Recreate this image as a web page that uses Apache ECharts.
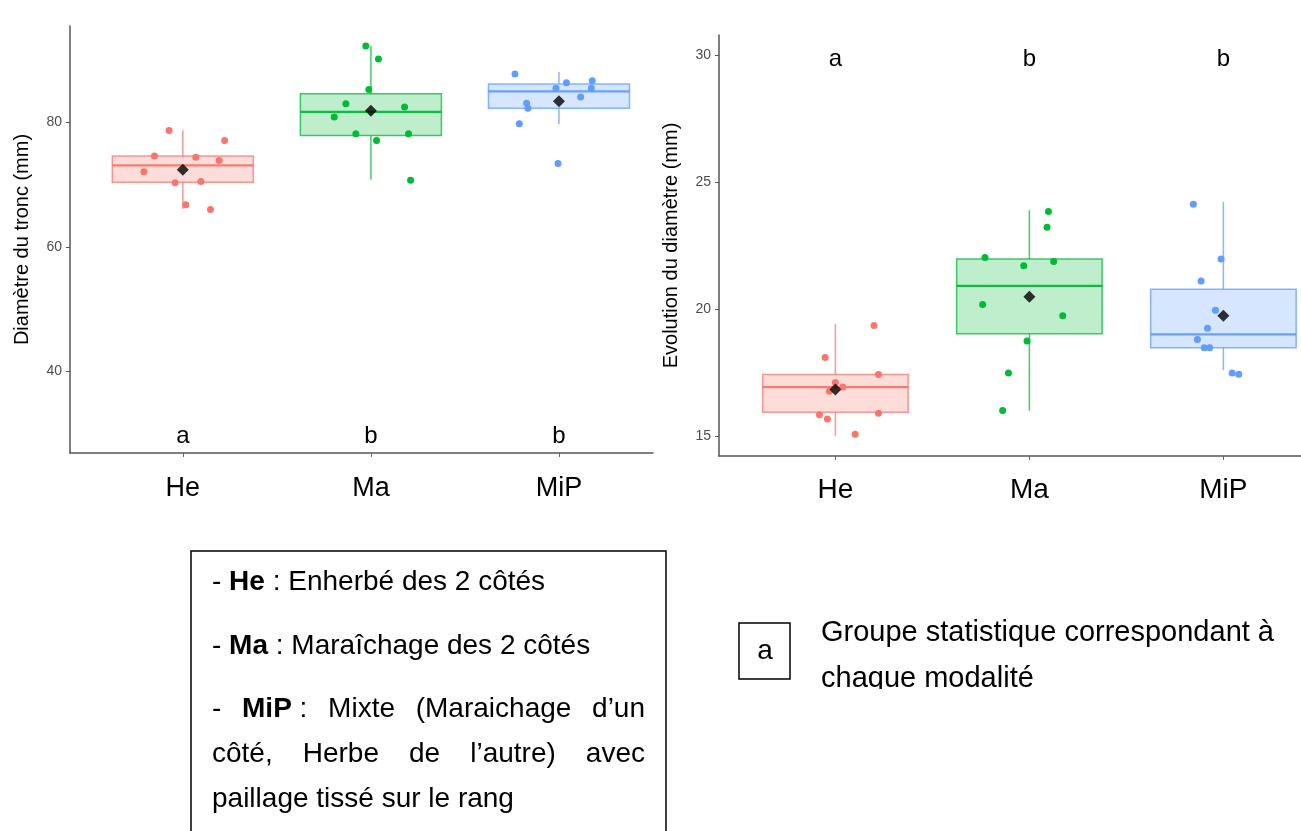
<!DOCTYPE html>
<html><head><meta charset="utf-8">
<script src="https://cdn.jsdelivr.net/npm/echarts@6/dist/echarts.min.js"></script>
<style>html,body{margin:0;padding:0;background:#fff}#c{width:1301px;height:831px}</style>
</head><body><div id="c"></div><script>
// ---------- DATA ----------
const categories = ['He', 'Ma', 'MiP'];
const groupColors = ['#F8766D', '#00BA38', '#619CFF'];

// Left panel: Diamètre du tronc (mm)   box = [lower whisker, Q1, median, Q3, upper whisker]
const trunkBoxHe  = [66.1, 70.4, 73.1, 74.6, 78.7];
const trunkBoxMa  = [70.8, 77.9, 81.7, 84.6, 92.3];
const trunkBoxMiP = [79.7, 82.3, 85.0, 86.2, 88.1];
const trunkMeans  = [72.4, 81.9, 83.4];
const trunkPtsHe  = [78.7, 77.1, 74.6, 74.4, 73.9, 72.1, 70.3, 70.5, 66.8, 66.0];
const trunkPtsMa  = [92.3, 90.2, 85.3, 83.0, 82.5, 80.9, 78.2, 78.2, 77.1, 70.7];
const trunkPtsMiP = [87.8, 86.4, 86.7, 85.5, 85.5, 84.1, 83.1, 82.3, 79.8, 73.4];
const trunkJitHe  = [-0.073, 0.222, -0.151, 0.069, 0.193, -0.207, -0.041, 0.096, 0.016, 0.147];
const trunkJitMa  = [-0.027, 0.040, -0.011, -0.133, 0.179, -0.195, -0.080, 0.200, 0.030, 0.211];
const trunkJitMiP = [-0.234, 0.040, 0.177, -0.016, 0.172, 0.115, -0.172, -0.165, -0.211, -0.005];
const trunkLetters = ['a', 'b', 'b'];
const trunkTicks = [40, 60, 80];

// Right panel: Evolution du diamètre (mm)
const evolBoxHe  = [15.0, 15.93, 16.92, 17.42, 19.41];
const evolBoxMa  = [15.99, 19.02, 20.91, 21.97, 23.89];
const evolBoxMiP = [17.59, 18.47, 19.0, 20.78, 24.22];
const evolMeans  = [16.83, 20.48, 19.73];
const evolPtsHe  = [19.35, 18.09, 17.42, 17.10, 16.93, 16.76, 15.83, 15.89, 15.67, 15.07];
const evolPtsMa  = [23.84, 23.22, 22.03, 21.87, 21.70, 20.18, 19.73, 18.74, 17.48, 16.00];
const evolPtsMiP = [24.12, 21.97, 21.10, 19.95, 19.24, 18.80, 18.47, 18.47, 17.48, 17.43];
const evolJitHe  = [0.199, -0.053, 0.222, 0.000, 0.038, -0.031, -0.082, 0.222, -0.041, 0.102];
const evolJitMa  = [0.098, 0.091, -0.229, 0.125, -0.029, -0.241, 0.172, -0.012, -0.108, -0.138];
const evolJitMiP = [-0.155, -0.012, -0.115, -0.041, -0.082, -0.134, -0.099, -0.071, 0.045, 0.079];
const evolLetters = ['a', 'b', 'b'];
const evolTicks = [15, 20, 25, 30];

// Legend texts
const legendLine1 = [{t: '- '}, {t: 'He', b: true}, {t: ' : Enherbé des 2 côtés'}];
const legendLine2 = [{t: '- '}, {t: 'Ma', b: true}, {t: ' : Maraîchage des 2 côtés'}];
const legendLine3 = [[{t: '-'}], [{t: 'MiP', b: true}, {t: ' :'}], [{t: 'Mixte'}], [{t: '(Maraichage'}], [{t: 'd’un'}]];
const legendLine4 = [[{t: 'côté,'}], [{t: 'Herbe'}], [{t: 'de'}], [{t: 'l’autre)'}], [{t: 'avec'}]];
const legendLine5 = [{t: 'paillage tissé sur le rang'}];
const groupNote = ['Groupe statistique correspondant à', 'chaque modalité'];
const groupNoteLetter = 'a';

// ---------- CHART ----------
const FF = '"Liberation Sans", Arial, sans-serif';
const HW = 0.375;
function rgba(hex, a) {
  const n = parseInt(hex.slice(1), 16);
  return 'rgba(' + ((n >> 16) & 255) + ',' + ((n >> 8) & 255) + ',' + (n & 255) + ',' + a + ')';
}

function panelSeries(idx, boxes, means, pts, jit, letters, letterY) {
  const s = [];
  s.push({
    type: 'custom', xAxisIndex: idx, yAxisIndex: idx, silent: true, z: 2,
    data: boxes.map((b, i) => [i].concat(b)),
    encode: {x: 0, y: [1, 2, 3, 4, 5]},
    renderItem: function (params, api) {
      const i = api.value(0);
      const lw = api.value(1), q1 = api.value(2), md = api.value(3), q3 = api.value(4), uw = api.value(5);
      const c = groupColors[i];
      const a = api.coord([i - HW, q3]), b = api.coord([i + HW, q1]);
      const m1 = api.coord([i - HW, md]), m2 = api.coord([i + HW, md]);
      const t1 = api.coord([i, uw]), t2 = api.coord([i, q3]);
      const u1 = api.coord([i, q1]), u2 = api.coord([i, lw]);
      return {type: 'group', children: [
        {type: 'line', shape: {x1: t1[0], y1: t1[1], x2: t2[0], y2: t2[1]}, style: {stroke: rgba(c, 0.75), lineWidth: 1.5}},
        {type: 'line', shape: {x1: u1[0], y1: u1[1], x2: u2[0], y2: u2[1]}, style: {stroke: rgba(c, 0.75), lineWidth: 1.5}},
        {type: 'rect', shape: {x: a[0], y: a[1], width: b[0] - a[0], height: b[1] - a[1]}, style: {fill: rgba(c, 0.25), stroke: rgba(c, 0.75), lineWidth: 1.5}},
        {type: 'line', shape: {x1: m1[0], y1: m1[1], x2: m2[0], y2: m2[1]}, style: {stroke: rgba(c, 0.95), lineWidth: 2.2}}
      ]};
    }
  });
  pts.forEach((arr, i) => {
    s.push({
      type: 'scatter', xAxisIndex: idx, yAxisIndex: idx, silent: true, z: 3,
      data: arr.map((v, k) => [i + jit[i][k], v]),
      symbolSize: 7, itemStyle: {color: groupColors[i], opacity: 1}
    });
  });
  s.push({
    type: 'scatter', xAxisIndex: idx, yAxisIndex: idx, silent: true, z: 4,
    data: means.map((m, i) => [i, m]),
    symbol: 'diamond', symbolSize: 12, itemStyle: {color: '#000'}
  });
  s.push({
    type: 'custom', xAxisIndex: idx, yAxisIndex: idx, silent: true, z: 5,
    data: letters.map((l, i) => [i, letterY]),
    renderItem: function (params, api) {
      const p = api.coord([api.value(0), api.value(1)]);
      return {type: 'text', x: p[0], y: p[1], style: {text: letters[params.dataIndex], fill: '#000', fontSize: 24, fontFamily: FF, align: 'center', verticalAlign: 'middle'}};
    }
  });
  return s;
}

function xAxisDef(idx, max, labelSize, margin) {
  return {
    type: 'value', gridIndex: idx, min: -0.6, max: max,
    axisLine: {show: true, onZero: false, lineStyle: {color: '#555', width: 1.5}},
    axisTick: {show: true, customValues: [0, 1, 2], length: 4, lineStyle: {color: '#666'}},
    axisLabel: {customValues: [0, 1, 2], formatter: v => categories[Math.round(v)] || '', fontSize: labelSize, color: '#000', fontFamily: FF, margin: margin},
    splitLine: {show: false}
  };
}
function yAxisDef(idx, min, max, ticks, name) {
  return {
    type: 'value', gridIndex: idx, min: min, max: max,
    name: name, nameLocation: 'middle', nameRotate: 90, nameGap: 38,
    nameTextStyle: {fontSize: 20, color: '#000', fontFamily: FF},
    axisLine: {show: true, onZero: false, lineStyle: {color: '#555', width: 1.5}},
    axisTick: {show: true, customValues: ticks, length: 4, lineStyle: {color: '#555'}},
    axisLabel: {customValues: ticks, fontSize: 14, color: '#4D4D4D', fontFamily: FF, margin: 8},
    splitLine: {show: false}
  };
}

// justified / rich text helpers for the legend
const mctx = document.createElement('canvas').getContext('2d');
function segWidth(segs, size) {
  let w = 0;
  segs.forEach(s => { mctx.font = (s.b ? 'bold ' : '') + size + 'px "Liberation Sans"'; w += mctx.measureText(s.t).width; });
  return w;
}
function richStr(segs) { return segs.map(s => s.b ? '{b|' + s.t + '}' : s.t).join(''); }
function textEl(segs, x, y, size, align) {
  return {type: 'text', x: x, y: y, silent: true, style: {
    text: richStr(segs), fill: '#000', fontSize: size, fontFamily: FF, align: align || 'left', verticalAlign: 'middle',
    rich: {b: {fontWeight: 'bold', fontSize: size, fontFamily: FF, fill: '#000'}}
  }};
}
function justified(words, x0, x1, y, size) {
  const ws = words.map(w => segWidth(w, size));
  const total = ws.reduce((a, b) => a + b, 0);
  const gap = (x1 - x0 - total) / (words.length - 1);
  let x = x0; const out = [];
  words.forEach((w, k) => { out.push(textEl(w, x, y, size)); x += ws[k] + gap; });
  return out;
}

const LS = 28;
const graphics = [
  {type: 'rect', silent: true, shape: {x: 191, y: 551, width: 475, height: 330}, style: {fill: 'none', stroke: '#000', lineWidth: 1.5}},
  textEl(legendLine1, 212, 582, LS),
  textEl(legendLine2, 212, 646, LS),
  ...justified(legendLine3, 212, 645, 709, LS),
  ...justified(legendLine4, 212, 645, 754, LS),
  textEl(legendLine5, 212, 799, LS),
  {type: 'rect', silent: true, shape: {x: 739, y: 623, width: 51, height: 56}, style: {fill: 'none', stroke: '#000', lineWidth: 1.5}},
  {type: 'text', silent: true, x: 765, y: 651, style: {text: groupNoteLetter, fontSize: 28, fontFamily: FF, fill: '#000', align: 'center', verticalAlign: 'middle'}},
  {type: 'text', silent: true, x: 821, y: 633, style: {text: groupNote[0], fontSize: 29, fontFamily: FF, fill: '#000', align: 'left', verticalAlign: 'middle'}},
  {type: 'text', silent: true, x: 821, y: 679, style: {text: groupNote[1], fontSize: 29, fontFamily: FF, fill: '#000', align: 'left', verticalAlign: 'middle'}},
  {type: 'rect', silent: true, z: 100, shape: {x: 800, y: 689, width: 501, height: 40}, style: {fill: '#fff'}}
];

const chart = echarts.init(document.getElementById('c'), null, {renderer: 'canvas'});
chart.setOption({
  animation: false,
  backgroundColor: '#fff',
  grid: [
    {left: 70, top: 26, width: 583, height: 427},
    {left: 719, top: 35, width: 582, height: 421}
  ],
  xAxis: [xAxisDef(0, 2.5, 27, 22), xAxisDef(1, 2.4, 28, 20)],
  yAxis: [
    yAxisDef(0, 26.9, 95.5, trunkTicks, 'Diamètre du tronc (mm)'),
    yAxisDef(1, 14.21, 30.79, evolTicks, 'Evolution du diamètre (mm)')
  ],
  series: [].concat(
    panelSeries(0, [trunkBoxHe, trunkBoxMa, trunkBoxMiP], trunkMeans, [trunkPtsHe, trunkPtsMa, trunkPtsMiP], [trunkJitHe, trunkJitMa, trunkJitMiP], trunkLetters, 29.5),
    panelSeries(1, [evolBoxHe, evolBoxMa, evolBoxMiP], evolMeans, [evolPtsHe, evolPtsMa, evolPtsMiP], [evolJitHe, evolJitMa, evolJitMiP], evolLetters, 29.84)
  ),
  graphic: graphics
});
</script></body></html>
